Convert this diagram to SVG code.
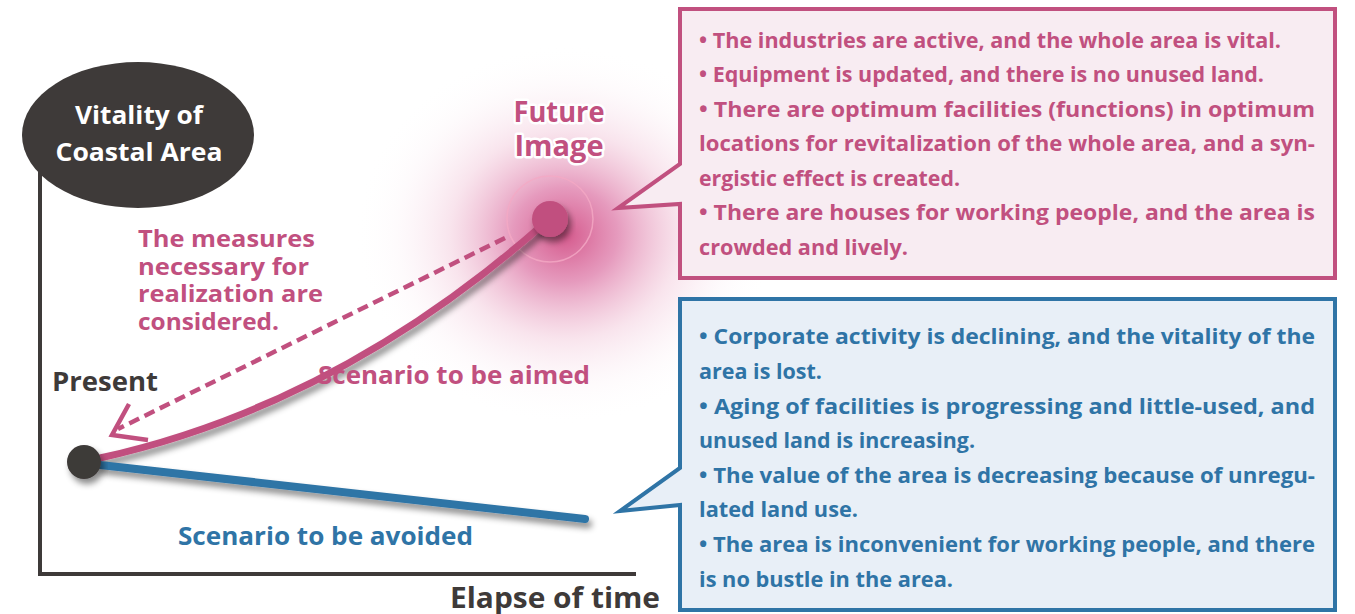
<svg xmlns="http://www.w3.org/2000/svg" width="1355" height="614" viewBox="0 0 1355 614">
<defs>
<style>
.t{font-family:"Open Sans","Noto Sans","Liberation Sans",sans-serif;font-weight:bold}
.pk{fill:#c1507f}
.bl{fill:#2f74a6}
.dk{fill:#3e3a39}
.wh{fill:#ffffff}
.box{font-size:21px}
</style>
<radialGradient id="glow" cx="0.5" cy="0.5" r="0.5">
<stop offset="0" stop-color="#d0467f" stop-opacity="0.9"/>
<stop offset="0.25" stop-color="#d8649a" stop-opacity="0.65"/>
<stop offset="0.55" stop-color="#eaa6c3" stop-opacity="0.3"/>
<stop offset="0.8" stop-color="#f6dbe7" stop-opacity="0.12"/>
<stop offset="1" stop-color="#ffffff" stop-opacity="0"/>
</radialGradient>
<filter id="sh" x="-20%" y="-20%" width="140%" height="160%">
<feDropShadow dx="3" dy="5" stdDeviation="3" flood-color="#000" flood-opacity="0.45"/>
</filter>
</defs>
<rect width="1355" height="614" fill="#ffffff"/>

<ellipse cx="565" cy="235" rx="210" ry="190" fill="url(#glow)"/>
<circle cx="550" cy="219" r="43" fill="none" stroke="#f4a9c4" stroke-width="1.5" opacity="0.8"/>

<g id="axes" fill="none" stroke="#3e3a39" stroke-width="4">
<path d="M40,160 L40,574 L636,574"/>
</g>

<g id="node-vitality">
<ellipse cx="138" cy="135" rx="116" ry="73" fill="#3e3a39"/>
<text class="t wh" x="139" y="124" font-size="25" text-anchor="middle" textLength="128" lengthAdjust="spacingAndGlyphs">Vitality of</text>
<text class="t wh" x="139" y="161" font-size="25" text-anchor="middle" textLength="167" lengthAdjust="spacingAndGlyphs">Coastal Area</text>
</g>

<g id="connectors">
<path d="M100,458 Q340,405 548,220" fill="none" stroke="#c1507f" stroke-width="7" stroke-linecap="round" filter="url(#sh)"/>
<path d="M100,465 L585,519" fill="none" stroke="#2f74a6" stroke-width="8" stroke-linecap="round" filter="url(#sh)"/>
<path d="M505,238 L118,429" fill="none" stroke="#c1507f" stroke-width="4.5" stroke-dasharray="11,6"/>
<path d="M129,404 L112,435 L148,440" fill="none" stroke="#c1507f" stroke-width="4.5" stroke-linejoin="miter"/>
</g>

<g id="node-present">
<circle cx="84" cy="462" r="17" fill="#3e3a39" filter="url(#sh)"/>
<text class="t dk" x="52" y="391" font-size="26" textLength="106" lengthAdjust="spacingAndGlyphs">Present</text>
</g>

<g id="node-future">
<circle cx="550" cy="219" r="18" fill="#c1507f" filter="url(#sh)"/>
<text class="t pk" x="559" y="122" font-size="29" text-anchor="middle" stroke="#ffffff" stroke-width="5" paint-order="stroke" stroke-linejoin="round" textLength="91" lengthAdjust="spacingAndGlyphs">Future</text>
<text class="t pk" x="559" y="156" font-size="29" text-anchor="middle" stroke="#ffffff" stroke-width="5" paint-order="stroke" stroke-linejoin="round" textLength="89" lengthAdjust="spacingAndGlyphs">Image</text>
</g>

<g id="label-measures" class="t pk" font-size="23">
<text x="138" y="247" textLength="177" lengthAdjust="spacingAndGlyphs">The measures</text>
<text x="138" y="275" textLength="171" lengthAdjust="spacingAndGlyphs">necessary for</text>
<text x="138" y="302" textLength="185" lengthAdjust="spacingAndGlyphs">realization are</text>
<text x="138" y="330" textLength="141" lengthAdjust="spacingAndGlyphs">considered.</text>
</g>

<g id="label-aimed">
<text class="t pk" x="318" y="384" font-size="25" textLength="272" lengthAdjust="spacingAndGlyphs">Scenario to be aimed</text>
</g>
<g id="label-avoided">
<text class="t bl" x="178" y="545" font-size="25" textLength="295" lengthAdjust="spacingAndGlyphs">Scenario to be avoided</text>
</g>
<g id="label-time">
<text class="t dk" x="450" y="608" font-size="28" textLength="210" lengthAdjust="spacingAndGlyphs">Elapse of time</text>
</g>

<g id="node-future-box">
<path d="M680,9 L1335,9 L1335,278 L680,278 L680,204 L618,208 L680,164 Z" fill="#f8ecf2" stroke="#c1507f" stroke-width="4" stroke-linejoin="miter"/>
<g class="t pk box">
<text x="699" y="48" textLength="582" lengthAdjust="spacingAndGlyphs">• The industries are active, and the whole area is vital.</text>
<text x="699" y="82" textLength="565" lengthAdjust="spacingAndGlyphs">• Equipment is updated, and there is no unused land.</text>
<text x="699" y="117" textLength="616" lengthAdjust="spacingAndGlyphs">• There are optimum facilities (functions) in optimum</text>
<text x="699" y="151" textLength="616" lengthAdjust="spacingAndGlyphs">locations for revitalization of the whole area, and a syn-</text>
<text x="699" y="186" textLength="261" lengthAdjust="spacingAndGlyphs">ergistic effect is created.</text>
<text x="699" y="220" textLength="616" lengthAdjust="spacingAndGlyphs">• There are houses for working people, and the area is</text>
<text x="699" y="255" textLength="209" lengthAdjust="spacingAndGlyphs">crowded and lively.</text>
</g>
</g>

<g id="node-avoid-box">
<path d="M680,299 L1335,299 L1335,610 L680,610 L680,505 L620,511 L680,468 Z" fill="#e8eff7" stroke="#2f74a6" stroke-width="4" stroke-linejoin="miter"/>
<g class="t bl box">
<text x="699" y="344" textLength="616" lengthAdjust="spacingAndGlyphs">• Corporate activity is declining, and the vitality of the</text>
<text x="699" y="379" textLength="123" lengthAdjust="spacingAndGlyphs">area is lost.</text>
<text x="699" y="414" textLength="616" lengthAdjust="spacingAndGlyphs">• Aging of facilities is progressing and little-used, and</text>
<text x="699" y="448" textLength="276" lengthAdjust="spacingAndGlyphs">unused land is increasing.</text>
<text x="699" y="483" textLength="616" lengthAdjust="spacingAndGlyphs">• The value of the area is decreasing because of unregu-</text>
<text x="699" y="517" textLength="159" lengthAdjust="spacingAndGlyphs">lated land use.</text>
<text x="699" y="552" textLength="616" lengthAdjust="spacingAndGlyphs">• The area is inconvenient for working people, and there</text>
<text x="699" y="587" textLength="254" lengthAdjust="spacingAndGlyphs">is no bustle in the area.</text>
</g>
</g>
</svg>
